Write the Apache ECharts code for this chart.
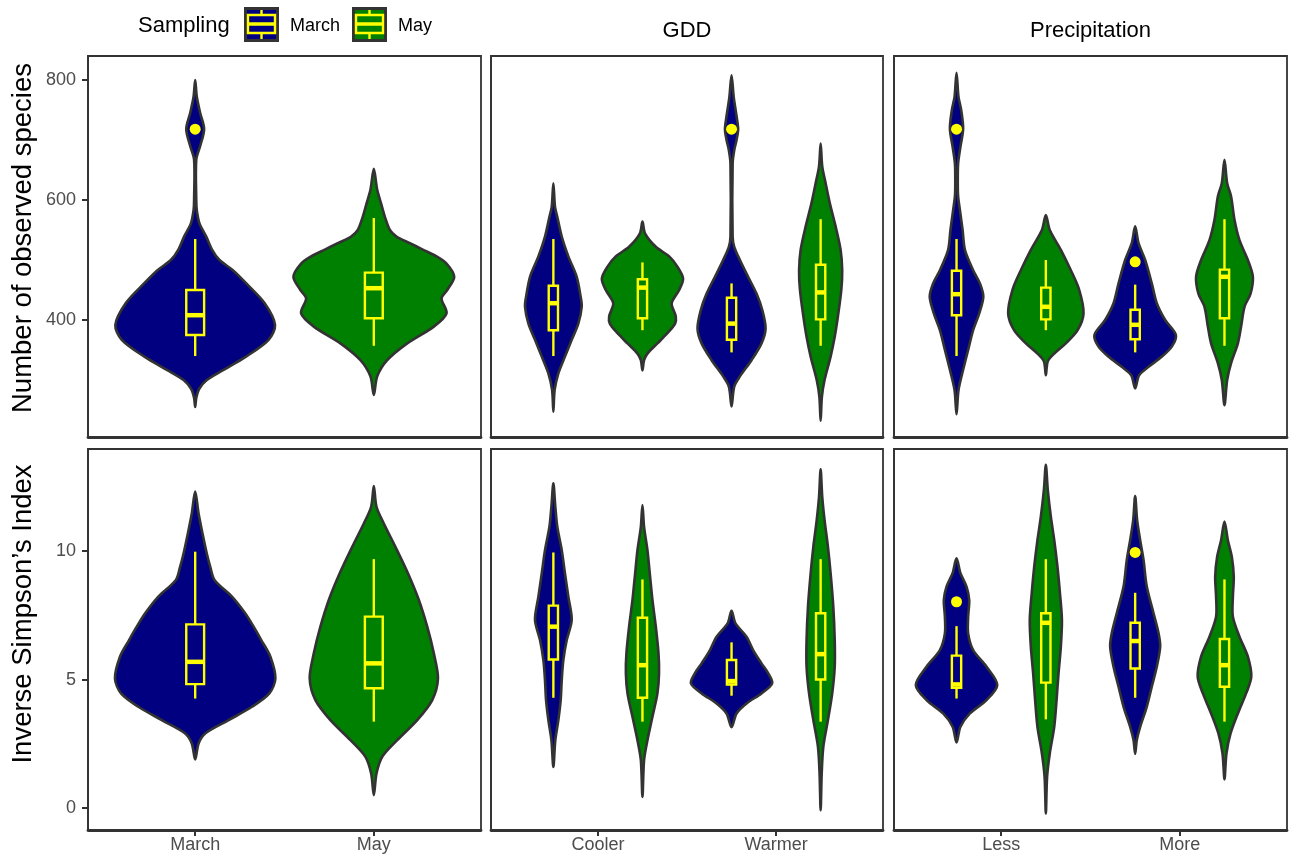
<!DOCTYPE html>
<html>
<head>
<meta charset="utf-8">
<script src="https://cdn.jsdelivr.net/npm/echarts@6/dist/echarts.min.js"></script>
<style>
  html, body { margin: 0; padding: 0; background: #ffffff; }
  #chart { width: 1291px; height: 857px; }
</style>
</head>
<body>
<div id="chart"></div>
<script>
// ---- categories and labels ----
const samplingCats = ['March', 'May'];
const gddCats = ['Cooler', 'Warmer'];
const precCats = ['Less', 'More'];
const seasons = ['March', 'May'];
const stripTitles = ['', 'GDD', 'Precipitation'];
const rowTitles = ['Number of observed species', 'Inverse Simpson\u2019s Index'];
const richTicks = [400, 600, 800];
const invsTicks = [0, 5, 10];

// ---- violin outlines: [value, half width in category units], lower tip to upper tip ----
// Number of observed species
const richMarch = [[255,0],[270,0.006],[285,0.022],[300,0.065],[317,0.159],[338,0.28],[367,0.411],[392,0.447],[428,0.389],[461,0.286],[483,0.211],[500,0.136],[517,0.095],[539,0.062],[561,0.024],[583,0.009],[600,0.006],[667,0.006],[690,0.028],[718,0.05],[745,0.028],[772,0.009],[800,0]];
const richMay = [[275,0],[306,0.019],[333,0.075],[361,0.187],[389,0.336],[411,0.407],[436,0.379],[450,0.411],[472,0.45],[494,0.407],[506,0.351],[517,0.277],[528,0.202],[539,0.127],[550,0.09],[572,0.062],[594,0.041],[617,0.019],[652,0]];
const richCoolerMarch = [[247,0],[283,0.007],[311,0.028],[339,0.065],[367,0.103],[394,0.14],[422,0.159],[439,0.153],[472,0.131],[506,0.084],[539,0.047],[572,0.022],[589,0.009],[628,0]];
const richCoolerMay = [[316,0],[333,0.009],[344,0.028],[361,0.084],[378,0.14],[394,0.183],[406,0.187],[428,0.164],[450,0.206],[469,0.228],[489,0.196],[506,0.15],[522,0.075],[544,0.015],[564,0]];
const richWarmerMarch = [[256,0],[289,0.015],[306,0.047],[333,0.112],[361,0.168],[386,0.191],[417,0.172],[444,0.14],[472,0.093],[500,0.047],[522,0.015],[539,0.006],[661,0.006],[683,0.015],[700,0.028],[718,0.037],[740,0.028],[772,0.012],[808,0]];
const richWarmerMay = [[232,0],[272,0.007],[300,0.022],[339,0.056],[372,0.079],[406,0.097],[450,0.116],[483,0.121],[517,0.112],[556,0.084],[594,0.052],[628,0.028],[656,0.009],[694,0]];
const richLessMarch = [[243,0],[283,0.011],[317,0.037],[350,0.065],[383,0.093],[411,0.127],[439,0.15],[461,0.131],[483,0.093],[517,0.047],[550,0.034],[583,0.019],[606,0.009],[628,0.007],[661,0.009],[689,0.022],[719,0.037],[750,0.026],[772,0.011],[812,0]];
const richLessMay = [[308,0],[331,0.011],[344,0.047],[361,0.112],[383,0.178],[411,0.211],[450,0.187],[483,0.14],[517,0.084],[550,0.022],[575,0]];
const richMoreMarch = [[286,0],[308,0.022],[322,0.075],[339,0.15],[356,0.206],[375,0.228],[400,0.168],[428,0.121],[461,0.093],[500,0.056],[528,0.019],[556,0]];
const richMoreMay = [[258,0],[300,0.015],[328,0.037],[361,0.075],[389,0.093],[422,0.112],[444,0.146],[472,0.159],[500,0.131],[533,0.084],[567,0.056],[606,0.037],[628,0.015],[667,0]];

// Inverse Simpson's index
const invsMarch = [[1.89,0],[2.51,0.019],[2.9,0.056],[3.42,0.187],[3.94,0.318],[4.46,0.415],[5.04,0.449],[5.89,0.421],[6.54,0.37],[7.06,0.327],[7.58,0.28],[8.23,0.206],[8.88,0.108],[9.4,0.084],[9.91,0.065],[10.69,0.041],[11.47,0.019],[12.32,0]];
const invsMay = [[0.5,0],[1.34,0.015],[1.99,0.047],[2.64,0.131],[3.42,0.243],[4.2,0.327],[5.04,0.359],[6.02,0.336],[7.06,0.299],[8.1,0.252],[9.14,0.191],[10.17,0.121],[11.08,0.056],[11.73,0.015],[12.54,0]];
const invsCoolerMarch = [[1.6,0],[2.64,0.011],[3.42,0.028],[4.2,0.041],[4.98,0.047],[5.76,0.056],[6.54,0.075],[7.32,0.103],[8.23,0.084],[9.14,0.065],[10.04,0.047],[10.95,0.022],[11.73,0.011],[12.64,0]];
const invsCoolerMay = [[0.43,0],[1.86,0.009],[2.64,0.028],[3.55,0.056],[4.46,0.084],[5.24,0.093],[6.02,0.09],[7.06,0.075],[8.1,0.056],[9.14,0.041],[10.04,0.028],[10.95,0.009],[11.8,0]];
const invsWarmerMarch = [[3.14,0],[3.68,0.028],[4.07,0.084],[4.46,0.168],[4.85,0.228],[5.24,0.206],[5.63,0.168],[6.15,0.121],[6.67,0.084],[7.19,0.022],[7.68,0]];
const invsWarmerMay = [[-0.09,0],[1.34,0.006],[2.38,0.015],[3.42,0.041],[4.46,0.065],[5.5,0.079],[6.54,0.079],[7.84,0.071],[9.14,0.056],[10.17,0.041],[11.21,0.022],[12.12,0.009],[13.19,0]];
const invsLessMarch = [[2.55,0],[3.16,0.022],[3.68,0.075],[4.2,0.168],[4.79,0.228],[5.5,0.168],[6.15,0.093],[6.8,0.065],[7.45,0.065],[8.1,0.071],[8.62,0.056],[9.14,0.022],[9.72,0]];
const invsLessMay = [[-0.22,0],[1.21,0.007],[2.12,0.022],[3.16,0.047],[4.2,0.06],[5.24,0.071],[6.28,0.084],[7.32,0.09],[8.36,0.079],[9.4,0.065],[10.43,0.047],[11.34,0.028],[12.38,0.011],[13.36,0]];
const invsMoreMarch = [[2.1,0],[2.64,0.009],[3.16,0.028],[3.94,0.065],[4.72,0.093],[5.5,0.121],[6.28,0.14],[6.8,0.131],[7.58,0.103],[8.62,0.065],[9.65,0.047],[10.43,0.028],[11.21,0.011],[12.15,0]];
const invsMoreMay = [[1.11,0],[2.12,0.011],[2.9,0.034],[3.68,0.075],[4.46,0.121],[5.11,0.15],[5.89,0.131],[6.67,0.084],[7.45,0.047],[8.23,0.047],[9.01,0.052],[9.78,0.041],[10.43,0.019],[11.15,0]];

// ---- box statistics: [lower whisker, Q1, median, Q3, upper whisker] ----
const richBoxSampling = [[340,375,408,450,535],[357,403,453,479,570]];
const richBoxGdd = [[340,383,428,457,535],[383,403,454,468,496],[346,367,394,437,461],[357,401,446,492,568]];
const richBoxPrec = [[340,408,443,482,535],[383,401,422,454,500],[346,368,392,417,459],[357,403,472,484,568]];
const invsBoxSampling = [[4.26,4.82,5.69,7.15,9.98],[3.36,4.66,5.63,7.45,9.69]];
const invsBoxGdd = [[4.29,5.78,7.06,7.88,9.95],[3.36,4.29,5.56,7.41,8.9],[4.37,4.81,4.94,5.76,6.45],[3.36,5.0,5.99,7.58,9.69]];
const invsBoxPrec = [[4.26,4.68,4.81,5.93,7.08],[3.45,4.88,7.21,7.58,9.69],[4.29,5.43,6.5,7.21,8.38],[3.36,4.72,5.56,6.58,8.9]];

// ---- outliers: [group index within panel, value] ----
const richOutSampling = [[0, 718]];
const richOutGdd = [[2, 718]];
const richOutPrec = [[0, 718], [2, 497]];
const invsOutSampling = [];
const invsOutGdd = [];
const invsOutPrec = [[0, 8.03], [2, 9.95]];

// ---- styling ----
const fillColors = ['#000080', '#008000'];
const outlineColor = '#333333';
const boxColor = '#FFFF00';
const fontFam = '"Liberation Sans", Arial, Helvetica, sans-serif';

const panelLeft = [88, 491, 894];
const panelWidth = [393, 392, 393];
const rowTop = [56, 449];
const rowHeight = 381;
const rowRange = [[205, 840], [-0.86, 13.98]];
const rowTitleY = [238, 614];

// ---- panel layout: which violins, boxes and outliers go where ----
const panelCats = [samplingCats, gddCats, precCats];
const profiles = [
  [[richMarch, richMay], [richCoolerMarch, richCoolerMay, richWarmerMarch, richWarmerMay], [richLessMarch, richLessMay, richMoreMarch, richMoreMay]],
  [[invsMarch, invsMay], [invsCoolerMarch, invsCoolerMay, invsWarmerMarch, invsWarmerMay], [invsLessMarch, invsLessMay, invsMoreMarch, invsMoreMay]]
];
const boxes = [[richBoxSampling, richBoxGdd, richBoxPrec], [invsBoxSampling, invsBoxGdd, invsBoxPrec]];
const outliers = [[richOutSampling, richOutGdd, richOutPrec], [invsOutSampling, invsOutGdd, invsOutPrec]];

// group positions on the x axis (category 1, 2, dodged by season in the split panels)
function groupLayout(col) {
  if (col === 0) return [0, 1].map(i => ({ x: i + 1, season: i, boxHalf: 0.05 }));
  const out = [];
  for (let c = 0; c < 2; c++) for (let s = 0; s < 2; s++) out.push({ x: c + 1 + (s === 0 ? -0.25 : 0.25), season: s, boxHalf: 0.026 });
  return out;
}

const grids = [], xAxes = [], yAxes = [], series = [];
let gi = 0;
for (let r = 0; r < 2; r++) {
  for (let c = 0; c < 3; c++) {
    grids.push({ left: panelLeft[c], top: rowTop[r], width: panelWidth[c], height: rowHeight,
      show: true, borderColor: outlineColor, borderWidth: 1.8, backgroundColor: 'transparent' });
    const cats = panelCats[c];
    xAxes.push({
      type: 'value', gridIndex: gi, min: 0.4, max: 2.6,
      splitLine: { show: false },
      axisLine: { show: true, onZero: false, lineStyle: { color: outlineColor, width: 2.8 } },
      axisTick: { show: r === 1, customValues: [1, 2], length: 6, lineStyle: { color: outlineColor, width: 2 } },
      axisLabel: { show: r === 1, customValues: [1, 2], margin: 6, color: '#4D4D4D', fontSize: 18, fontFamily: fontFam,
        formatter: v => cats[Math.round(v) - 1] }
    });
    const ticks = r === 0 ? richTicks : invsTicks;
    yAxes.push({
      type: 'value', gridIndex: gi, min: rowRange[r][0], max: rowRange[r][1],
      splitLine: { show: false },
      axisLine: { show: true, onZero: false, lineStyle: { color: outlineColor, width: 1.8 } },
      axisTick: { show: c === 0, customValues: ticks, length: 6, lineStyle: { color: outlineColor, width: 2 } },
      axisLabel: { show: c === 0, customValues: ticks, margin: 12, color: '#4D4D4D', fontSize: 18, fontFamily: fontFam }
    });

    const layout = groupLayout(c);
    const profs = profiles[r][c];
    const bx = boxes[r][c];

    // violins
    series.push({
      type: 'custom', xAxisIndex: gi, yAxisIndex: gi, silent: true, animation: false, z: 2,
      data: profs.map((p, i) => [layout[i].x, p[0][0]]),
      renderItem: (params, api) => {
        const g = layout[params.dataIndex];
        const p = profs[params.dataIndex];
        const right = p.map(([v, w]) => api.coord([g.x + w, v]));
        const left = p.slice(1, -1).reverse().map(([v, w]) => api.coord([g.x - w, v]));
        return {
          type: 'polygon',
          shape: { points: right.concat(left), smooth: 0.3 },
          style: { fill: fillColors[g.season], stroke: outlineColor, lineWidth: 2.6, lineJoin: 'round' }
        };
      }
    });

    // box plots
    series.push({
      type: 'custom', xAxisIndex: gi, yAxisIndex: gi, silent: true, animation: false, z: 3,
      data: bx.map((b, i) => [layout[i].x, b[0], b[1], b[2], b[3], b[4]]),
      renderItem: (params, api) => {
        const g = layout[params.dataIndex];
        const x = api.value(0);
        const lo = api.coord([x, api.value(1)]);
        const q1 = api.coord([x, api.value(2)]);
        const q3 = api.coord([x, api.value(4)]);
        const hi = api.coord([x, api.value(5)]);
        const ml = api.coord([x - g.boxHalf, api.value(3)]);
        const mr = api.coord([x + g.boxHalf, api.value(3)]);
        const tl = api.coord([x - g.boxHalf, api.value(4)]);
        const br = api.coord([x + g.boxHalf, api.value(2)]);
        const line = { stroke: boxColor, lineWidth: 2.4 };
        return {
          type: 'group',
          children: [
            { type: 'line', shape: { x1: hi[0], y1: hi[1], x2: q3[0], y2: q3[1] }, style: line },
            { type: 'line', shape: { x1: q1[0], y1: q1[1], x2: lo[0], y2: lo[1] }, style: line },
            { type: 'rect', shape: { x: tl[0], y: tl[1], width: br[0] - tl[0], height: br[1] - tl[1] },
              style: { fill: fillColors[g.season], stroke: boxColor, lineWidth: 2.4 } },
            { type: 'line', shape: { x1: ml[0], y1: ml[1], x2: mr[0], y2: mr[1] }, style: { stroke: boxColor, lineWidth: 4.5 } }
          ]
        };
      }
    });

    // outlying points
    series.push({
      type: 'scatter', xAxisIndex: gi, yAxisIndex: gi, silent: true, animation: false, z: 4,
      symbol: 'circle', symbolSize: 11,
      itemStyle: { color: boxColor, opacity: 1 },
      data: outliers[r][c].map(([i, v]) => [layout[i].x, v])
    });
    gi++;
  }
}

// ---- titles and legend ----
const graphics = [];
rowTitles.forEach((t, r) => {
  graphics.push({
    type: 'text', x: 23, y: rowTitleY[r], rotation: Math.PI / 2,
    style: { text: t, fontSize: 27.5, fontFamily: fontFam, fill: '#000', align: 'center', verticalAlign: 'middle' }
  });
});
stripTitles.forEach((t, c) => {
  if (!t) return;
  graphics.push({
    type: 'text', x: panelLeft[c] + panelWidth[c] / 2, y: 31,
    style: { text: t, fontSize: 22, fontFamily: fontFam, fill: '#000', align: 'center', verticalAlign: 'middle' }
  });
});
graphics.push({
  type: 'text', x: 138, y: 26,
  style: { text: 'Sampling', fontSize: 22, fontFamily: fontFam, fill: '#000', align: 'left', verticalAlign: 'middle' }
});
const keyX = [244, 352];
const labelX = [290, 398];
seasons.forEach((s, i) => {
  const kx = keyX[i], ky = 7, ks = 35;
  const cx = kx + ks / 2;
  graphics.push({ type: 'rect', shape: { x: kx + 1.5, y: ky + 1.5, width: ks - 3, height: ks - 3 },
    style: { fill: fillColors[i], stroke: outlineColor, lineWidth: 3 } });
  graphics.push({ type: 'line', shape: { x1: cx, y1: ky + 3, x2: cx, y2: ky + 8 }, style: { stroke: boxColor, lineWidth: 2.4 } });
  graphics.push({ type: 'line', shape: { x1: cx, y1: ky + 26, x2: cx, y2: ky + 32 }, style: { stroke: boxColor, lineWidth: 2.4 } });
  graphics.push({ type: 'rect', shape: { x: kx + 4, y: ky + 8, width: ks - 8, height: 18 },
    style: { fill: fillColors[i], stroke: boxColor, lineWidth: 2.4 } });
  graphics.push({ type: 'line', shape: { x1: kx + 4, y1: ky + 17, x2: kx + ks - 4, y2: ky + 17 }, style: { stroke: boxColor, lineWidth: 3.5 } });
  graphics.push({ type: 'text', x: labelX[i], y: 26,
    style: { text: s, fontSize: 18, fontFamily: fontFam, fill: '#000', align: 'left', verticalAlign: 'middle' } });
});

const chart = echarts.init(document.getElementById('chart'), null, { renderer: 'canvas' });
chart.setOption({
  backgroundColor: '#ffffff',
  animation: false,
  grid: grids,
  xAxis: xAxes,
  yAxis: yAxes,
  series: series,
  graphic: graphics
});
</script>
</body>
</html>
